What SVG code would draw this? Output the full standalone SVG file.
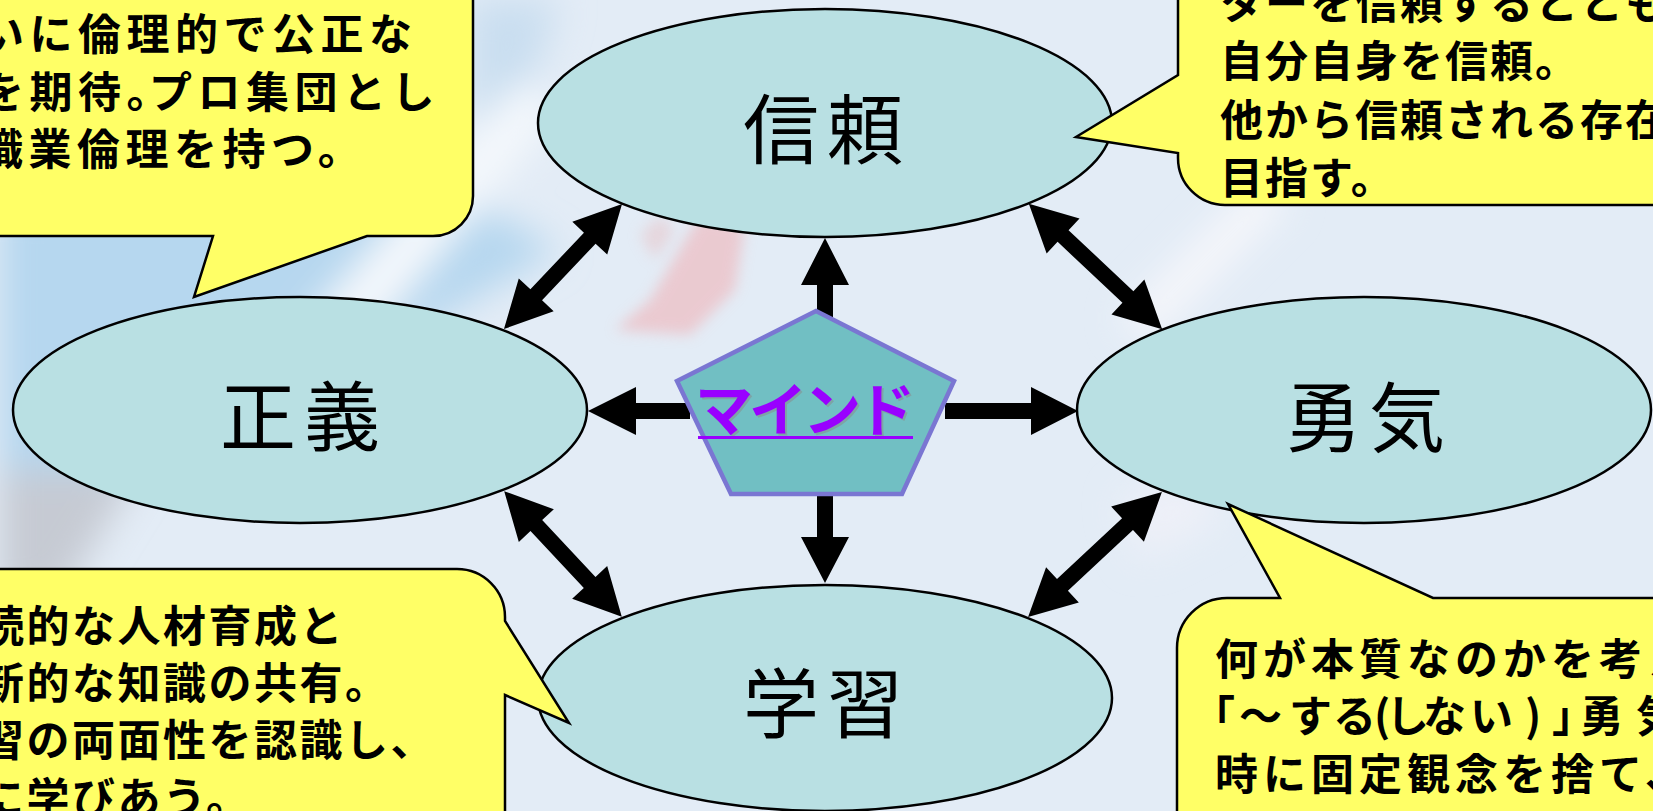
<svg xmlns="http://www.w3.org/2000/svg" width="1653" height="811" viewBox="0 0 1653 811">
<defs>
<style>
.node{fill:#b9e0e3;stroke:#000;stroke-width:2.5}
.lbl{font-family:"Noto Sans CJK JP","Noto Sans",sans-serif;font-size:76px;font-weight:400;fill:#000;text-anchor:middle;letter-spacing:8px}
.bub{fill:#ffff66;stroke:#000;stroke-width:2.5;stroke-linejoin:miter}
.bt{font-family:"Noto Sans CJK JP","Noto Sans",sans-serif;font-size:43px;font-weight:700;fill:#000}
.arr{fill:#000}
.mind{font-family:"Noto Sans CJK JP",sans-serif;font-size:58px;font-weight:700;letter-spacing:-4px}
</style>
<filter id="blur" x="-50%" y="-50%" width="200%" height="200%"><feGaussianBlur stdDeviation="18"/></filter>
<filter id="blur2" x="-50%" y="-50%" width="200%" height="200%"><feGaussianBlur stdDeviation="7"/></filter>
</defs>
<g id="background">
<rect width="1653" height="811" fill="#e3ecf6"/>
<g filter="url(#blur)">
<polygon points="0,200 470,200 560,250 420,330 0,520" fill="#b6d7ef"/>
<polygon points="470,0 560,0 520,120 470,120" fill="#c9def0"/>
<polygon points="300,330 520,80 560,110 350,360" fill="#f4f8fc"/>
<polygon points="0,470 140,470 60,600 0,600" fill="#c6cad3"/>
<polygon points="1120,320 1260,180 1290,200 1150,340" fill="#f7f7fb"/>
<polygon points="1120,500 1200,470 1220,520 1140,560" fill="#eef0f8"/>
</g>
<g filter="url(#blur2)" opacity="0.6">
<polygon points="615,330 650,300 700,215 745,225 735,290 690,335" fill="#f0b4b8"/>
<polygon points="640,235 660,215 675,230 655,260" fill="#e8c8cc"/>
</g>
</g>
<g id="node-trust">
<ellipse class="node" cx="825" cy="123" rx="287" ry="114"/>
<text class="lbl" x="827" y="158">信頼</text>
</g>
<g id="node-justice">
<ellipse class="node" cx="300" cy="410" rx="287" ry="113"/>
<text class="lbl" x="304" y="445">正義</text>
</g>
<g id="node-courage">
<ellipse class="node" cx="1364" cy="410" rx="287" ry="113"/>
<text class="lbl" x="1369" y="446">勇気</text>
</g>
<g id="node-learning">
<ellipse class="node" cx="825" cy="698" rx="287" ry="113"/>
<text class="lbl" x="827" y="732">学習</text>
</g>
<g id="connectors">
<polygon class="arr" points="825,238 849,285 833,285 833,320 817,320 817,285 801,285"/>
<polygon class="arr" points="817,488 833,488 833,537 849,537 825,583 801,537 817,537"/>
<polygon class="arr" points="588,411 636,387 636,403 690,403 690,419 636,419 636,435"/>
<polygon class="arr" points="945,403 1031,403 1031,387 1078,411 1031,435 1031,419 945,419"/>
<polygon class="arr" transform="translate(563 266.5) rotate(-46.65)" points="-86,0 -39,-24 -39,-8 39,-8 39,-24 86,0 39,24 39,8 -39,8 -39,24"/>
<polygon class="arr" transform="translate(1095.5 266.5) rotate(43.23)" points="-91.5,0 -44.5,-24 -44.5,-8 44.5,-8 44.5,-24 91.5,0 44.5,24 44.5,8 -44.5,8 -44.5,24"/>
<polygon class="arr" transform="translate(563 554) rotate(46.87)" points="-86,0 -39,-24 -39,-8 39,-8 39,-24 86,0 39,24 39,8 -39,8 -39,24"/>
<polygon class="arr" transform="translate(1095 554.5) rotate(-43.01)" points="-91.5,0 -44.5,-24 -44.5,-8 44.5,-8 44.5,-24 91.5,0 44.5,24 44.5,8 -44.5,8 -44.5,24"/>
</g>
<g id="node-mind">
<polygon points="816,311 954,381 902,494 731,494 677,381" fill="#71bfc3" stroke="#7a76d2" stroke-width="4.5" stroke-linejoin="miter"/>
<text class="mind" x="697" y="433" fill="#8a8a8a" opacity="0.5">マインド</text>
<text class="mind" x="695" y="431" fill="#9900ff">マインド</text>
<line x1="698" y1="437.5" x2="913" y2="437.5" stroke="#9900ff" stroke-width="3"/>
</g>
<g id="bubble-justice">
<path class="bub" d="M -60,-60 H 473 V 196 A 40 40 0 0 1 433 236 H 367 L 194 297 L 213 236 H -60 Z"/>
<text class="bt" letter-spacing="5.5"><tspan x="-19" y="50">いに倫理的で公正な</tspan><tspan x="-19" y="108">を期待。</tspan><tspan dx="-26">プロ集団とし</tspan><tspan x="-20" y="165">職業倫理を持つ。</tspan></text>
</g>
<g id="bubble-trust">
<path class="bub" d="M 1178,-60 V 75 L 1076 137 L 1178 153 V 158 A 47 47 0 0 0 1225 205 H 1720 V -60 Z"/>
<text class="bt" font-size="44" letter-spacing="2"><tspan x="1220" y="19">ターを信頼するととも</tspan><tspan x="1220" y="77">自分自身を信頼。</tspan><tspan x="1220" y="136">他から信頼される存在</tspan><tspan x="1220" y="194">目指す。</tspan></text>
</g>
<g id="bubble-learning">
<path class="bub" d="M -60,569 H 457 A 48 48 0 0 1 505 617 V 621 L 569 723 L 505 695 V 870 H -60 Z"/>
<text class="bt" letter-spacing="2.5"><tspan x="-19" y="642">続的な人材育成と</tspan><tspan x="-19" y="699">新的な知識の共有。</tspan><tspan x="-19" y="756">習の両面性を認識し、</tspan><tspan x="-19" y="814">に学びあう。</tspan></text>
</g>
<g id="bubble-courage">
<path class="bub" d="M 1720,870 H 1177 V 648 A 50 50 0 0 1 1227 598 H 1280 L 1228 504 L 1433 598 H 1720 Z"/>
<text class="bt" letter-spacing="5"><tspan x="1215" y="675">何が本質なのかを考え</tspan><tspan x="1192 1239 1289 1333 1374 1386 1423 1470 1525 1552 1580 1636" y="732">「～する(しない)」勇気</tspan><tspan x="1215" y="790">時に固定観念を捨て、</tspan></text>
</g>
</svg>
